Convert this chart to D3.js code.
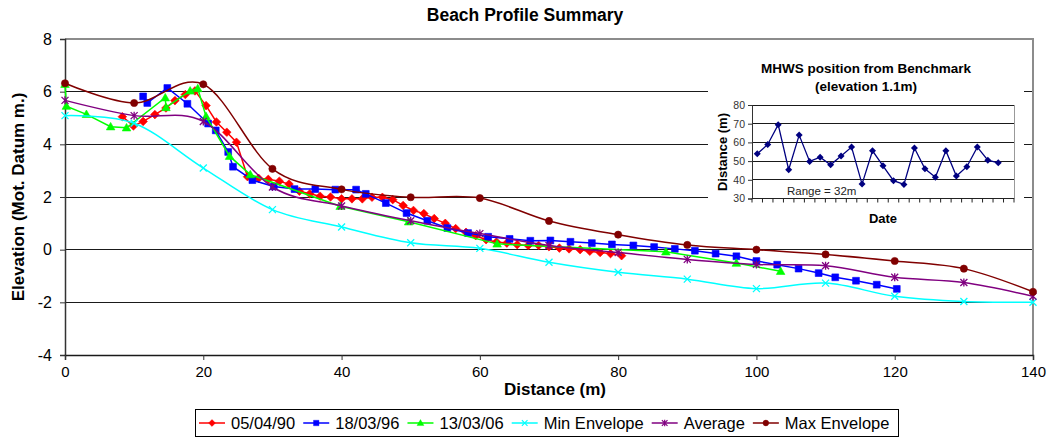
<!DOCTYPE html>
<html><head><meta charset="utf-8">
<script src="https://cdn.jsdelivr.net/npm/d3@7"></script>
<style>
body{margin:0;background:#fff;}
svg text{font-family:"Liberation Sans",Arial,sans-serif;}
</style></head>
<body><svg id="c" width="1051" height="439"></svg>
<script>
// ---------- DATA ----------
const chartTitle = "Beach Profile Summary";
const xTicks = [0, 20, 40, 60, 80, 100, 120, 140];
const yTicks = [-4, -2, 0, 2, 4, 6, 8];

const envX = [0, 10, 20, 30, 40, 50, 60, 70, 80, 90, 100, 110, 120, 130, 140];
const maxEnv = [6.32, 5.57, 6.28, 3.07, 2.29, 1.99, 1.96, 1.09, 0.57, 0.18, 0.00, -0.18, -0.43, -0.72, -1.60];
const avgEnv = [5.67, 5.09, 4.87, 2.38, 1.66, 1.10, 0.61, 0.16, -0.11, -0.37, -0.56, -0.61, -1.05, -1.25, -1.77];
const minEnv = [5.09, 4.80, 3.10, 1.52, 0.86, 0.26, 0.05, -0.48, -0.86, -1.12, -1.48, -1.27, -1.77, -1.97, -2.00];

const p1990X = [8.3, 9.9, 11.3, 13.0, 14.6, 15.9, 17.4, 18.8, 20.4, 21.9, 23.4, 24.8, 26.4, 28.0, 29.4, 31.0, 32.4, 33.9, 35.4, 36.9, 38.4, 40.0, 41.5, 43.0, 44.4, 45.9, 47.4, 48.9, 50.4, 51.9, 53.4, 55.0, 56.5, 58.0, 59.4, 60.9, 62.4, 63.9, 65.4, 67.0, 68.5, 70.0, 71.5, 72.9, 74.5, 75.9, 77.4, 78.9, 80.5];
const p1990Y = [5.05, 4.70, 4.87, 5.13, 5.38, 5.66, 5.89, 6.03, 5.47, 4.85, 4.46, 4.08, 2.77, 2.71, 2.67, 2.60, 2.49, 2.22, 2.12, 2.03, 2.00, 1.93, 1.93, 1.93, 1.99, 1.99, 1.90, 1.68, 1.49, 1.37, 1.18, 1.00, 0.80, 0.66, 0.53, 0.38, 0.29, 0.25, 0.19, 0.16, 0.16, 0.11, 0.06, 0.03, 0.00, -0.06, -0.11, -0.15, -0.23];

const p1996X = [11.3, 11.9, 14.8, 17.7, 20.7, 21.8, 23.6, 24.3, 27.1, 30.2, 33.2, 36.2, 39.1, 42.1, 43.5, 46.4, 49.4, 52.4, 55.3, 58.3, 61.2, 64.3, 67.3, 70.2, 73.1, 76.2, 79.1, 82.2, 85.2, 88.2, 91.1, 94.1, 97.1, 100.0, 103.0, 106.1, 109.0, 111.4, 114.4, 117.4, 120.3];
const p1996Y = [5.82, 5.57, 6.14, 5.54, 4.79, 4.53, 3.71, 3.15, 2.64, 2.40, 2.30, 2.30, 2.28, 2.28, 2.12, 1.77, 1.39, 1.10, 0.82, 0.63, 0.49, 0.41, 0.34, 0.35, 0.30, 0.25, 0.20, 0.16, 0.10, 0.03, -0.04, -0.15, -0.25, -0.43, -0.57, -0.72, -0.89, -1.05, -1.18, -1.33, -1.49];

const p2006X = [0, 0.2, 3.1, 6.6, 8.9, 14.5, 14.6, 18.1, 19.2, 20.4, 23.8, 26.8, 39.8, 49.7, 62.5, 86.9, 97.1, 103.5];
const p2006Y = [6.28, 5.45, 5.14, 4.67, 4.63, 5.77, 5.40, 6.03, 6.12, 5.06, 3.55, 2.85, 1.65, 1.06, 0.22, -0.08, -0.51, -0.82];

const seriesNames = ["05/04/90", "18/03/96", "13/03/06", "Min Envelope", "Average", "Max Envelope"];
const seriesColors = ["#FF0000", "#0000FF", "#00FF00", "#00FFFF", "#800080", "#800000"];

// inset
const insetTitle1 = "MHWS position from Benchmark";
const insetTitle2 = "(elevation 1.1m)";
const insetValues = [53.9, 58.9, 69.5, 45.4, 63.9, 49.8, 52.1, 48.0, 52.7, 57.5, 37.7, 55.5, 47.5, 39.5, 37.5, 57.0, 45.9, 41.4, 55.5, 42.0, 47.0, 57.5, 50.5, 49.1];
const insetCategoryCount = 25;
const insetYTicks = [30, 40, 50, 60, 70, 80];
const insetNote = "Range = 32m";

// ---------- DRAW ----------
const svg = d3.select("#c");
const FONT = '"Liberation Sans",Arial,sans-serif';

const x = d3.scaleLinear().domain([0, 140]).range([65, 1033]);
const y = d3.scaleLinear().domain([-4, 8]).range([355, 39]);

// gridlines
svg.append("g").selectAll("line").data(yTicks.filter(d => d !== 8)).join("line")
  .attr("x1", x(0)).attr("x2", x(140)).attr("y1", d => y(d)).attr("y2", d => y(d))
  .attr("stroke", "#1a1a1a").attr("stroke-width", 1).attr("shape-rendering", "crispEdges");
// plot border top/right
svg.append("path").attr("d", `M${x(0)},${y(8)}H${x(140)}V${y(-4)}`)
  .attr("fill", "none").attr("stroke", "#8c8c8c").attr("stroke-width", 1.5).attr("shape-rendering", "crispEdges");

// axes
const yAxis = d3.axisLeft(y).tickValues(yTicks).tickSize(5).tickPadding(8).tickFormat(d3.format("d"));
const gy = svg.append("g").attr("transform", `translate(${x(0)},0)`).call(yAxis);
gy.select(".domain").attr("stroke", "#333").attr("stroke-width", 1.5);
gy.selectAll(".tick line").attr("stroke", "#333");
gy.selectAll(".tick text").attr("font-family", FONT).attr("font-size", 16).attr("fill", "#000");
gy.selectAll(".tick text").text(d => d < 0 ? "-" + Math.abs(d) : d);

const xAxis = d3.axisBottom(x).tickValues(xTicks).tickSize(5).tickPadding(6).tickFormat(d3.format("d"));
const gx = svg.append("g").attr("transform", `translate(0,${y(-4)})`).call(xAxis);
gx.select(".domain").attr("stroke", "#1a1a1a").attr("stroke-width", 1.5);
gx.selectAll(".tick line").attr("stroke", "#333");
gx.selectAll(".tick text").attr("font-family", FONT).attr("font-size", 15).attr("fill", "#000");

// titles
svg.append("text").attr("x", 525).attr("y", 21).attr("text-anchor", "middle")
  .attr("font-size", 17.5).attr("font-weight", "bold").text(chartTitle);
svg.append("text").attr("x", 555).attr("y", 395).attr("text-anchor", "middle")
  .attr("font-size", 17).attr("font-weight", "bold").text("Distance (m)");
svg.append("text").attr("transform", "translate(24,197) rotate(-90)").attr("text-anchor", "middle")
  .attr("font-size", 17).attr("font-weight", "bold").text("Elevation (Mot. Datum m.)");

// markers
function markerPath(kind) {
  switch (kind) {
    case 0: return "M0,-4.3L4.3,0L0,4.3L-4.3,0Z";
    case 1: return "M-3.4,-3.4H3.4V3.4H-3.4Z";
    case 2: return "M0,-4.3L4.3,3.2H-4.3Z";
    case 3: return "M-3.5,-3.5L3.5,3.5M-3.5,3.5L3.5,-3.5";
    case 4: return "M-3.5,-3.5L3.5,3.5M-3.5,3.5L3.5,-3.5M0,-4L0,4";
    case 5: return "M3.6,0A3.6,3.6 0 1 1 -3.6,0A3.6,3.6 0 1 1 3.6,0Z";
  }
}
function drawMarkers(g, pts, kind, color) {
  const stroked = (kind === 3 || kind === 4);
  g.selectAll("path.m").data(pts).join("path").attr("class", "m")
    .attr("d", markerPath(kind))
    .attr("transform", d => `translate(${x(d[0])},${y(d[1])})`)
    .attr("fill", stroked ? "none" : color)
    .attr("stroke", color).attr("stroke-width", stroked ? 1.3 : 0.6);
}

const seriesData = [
  {pts: p1990X.map((v, i) => [v, p1990Y[i]]), smooth: false},
  {pts: p1996X.map((v, i) => [v, p1996Y[i]]), smooth: false},
  {pts: p2006X.map((v, i) => [v, p2006Y[i]]), smooth: false},
  {pts: envX.map((v, i) => [v, minEnv[i]]), smooth: true},
  {pts: envX.map((v, i) => [v, avgEnv[i]]), smooth: true},
  {pts: envX.map((v, i) => [v, maxEnv[i]]), smooth: true}
];

seriesData.forEach((s, k) => {
  const g = svg.append("g");
  const line = d3.line().x(d => x(d[0])).y(d => y(d[1]))
    .curve(s.smooth ? d3.curveCatmullRom.alpha(0) : d3.curveLinear);
  g.append("path").attr("d", line(s.pts)).attr("fill", "none")
    .attr("stroke", seriesColors[k]).attr("stroke-width", 1.5);
  drawMarkers(g, s.pts, k, seriesColors[k]);
});

// ---------- INSET ----------
svg.append("rect").attr("x", 708).attr("y", 42).attr("width", 316).attr("height", 190).attr("fill", "#fff");

const xi = d3.scaleBand().domain(d3.range(insetCategoryCount)).range([752, 1014]);
const yi = d3.scaleLinear().domain([30, 80]).range([198.5, 105]);

svg.append("g").selectAll("line").data(insetYTicks.filter(d => d > 30)).join("line")
  .attr("x1", 752).attr("x2", 1014).attr("y1", d => yi(d)).attr("y2", d => yi(d))
  .attr("stroke", "#1a1a1a").attr("stroke-width", 1).attr("shape-rendering", "crispEdges");
svg.append("line").attr("x1", 1014).attr("x2", 1014).attr("y1", yi(80)).attr("y2", yi(30))
  .attr("stroke", "#999").attr("stroke-width", 1).attr("shape-rendering", "crispEdges");

const giy = svg.append("g").attr("transform", "translate(752,0)")
  .call(d3.axisLeft(yi).tickValues(insetYTicks).tickSize(4).tickPadding(3));
giy.select(".domain").attr("stroke", "#333");
giy.selectAll(".tick line").attr("stroke", "#333");
giy.selectAll(".tick text").attr("font-family", FONT).attr("font-size", 10.5).attr("fill", "#333");

const boundaries = d3.range(insetCategoryCount + 1).map(i => 752 + i * xi.step());
const gix = svg.append("g");
gix.append("line").attr("x1", 752).attr("x2", 1014).attr("y1", yi(30)).attr("y2", yi(30))
  .attr("stroke", "#222").attr("stroke-width", 1.2);
gix.selectAll("line.t").data(boundaries).join("line").attr("class", "t")
  .attr("x1", d => d).attr("x2", d => d).attr("y1", yi(30)).attr("y2", yi(30) + 4)
  .attr("stroke", "#222").attr("stroke-width", 1);

const iline = d3.line().x((d, i) => xi(i) + xi.bandwidth() / 2).y(d => yi(d));
svg.append("path").attr("d", iline(insetValues)).attr("fill", "none")
  .attr("stroke", "#000080").attr("stroke-width", 1.3);
svg.append("g").selectAll("path").data(insetValues).join("path")
  .attr("d", "M0,-3.5L3.5,0L0,3.5L-3.5,0Z")
  .attr("transform", (d, i) => `translate(${xi(i) + xi.bandwidth() / 2},${yi(d)})`)
  .attr("fill", "#000080");

svg.append("text").attr("x", 866).attr("y", 73).attr("text-anchor", "middle")
  .attr("font-size", 13.5).attr("font-weight", "bold").text(insetTitle1);
svg.append("text").attr("x", 866).attr("y", 91).attr("text-anchor", "middle")
  .attr("font-size", 13.5).attr("font-weight", "bold").text(insetTitle2);
svg.append("text").attr("transform", "translate(727,152) rotate(-90)").attr("text-anchor", "middle")
  .attr("font-size", 13).attr("font-weight", "bold").text("Distance (m)");
svg.append("text").attr("x", 883).attr("y", 223).attr("text-anchor", "middle")
  .attr("font-size", 13).attr("font-weight", "bold").text("Date");
svg.append("text").attr("x", 787).attr("y", 195)
  .attr("font-size", 11.5).attr("fill", "#222").text(insetNote);

// ---------- LEGEND ----------
const lg = svg.append("g");
lg.append("rect").attr("x", 195.5).attr("y", 409.5).attr("width", 703).attr("height", 27)
  .attr("fill", "#fff").attr("stroke", "#000").attr("stroke-width", 1);
let cx = 199;
seriesNames.forEach((name, k) => {
  lg.append("line").attr("x1", cx).attr("x2", cx + 26).attr("y1", 423).attr("y2", 423)
    .attr("stroke", seriesColors[k]).attr("stroke-width", 1.5);
  const stroked = (k === 3 || k === 4);
  lg.append("path").attr("d", markerPath(k)).attr("transform", `translate(${cx + 13},423) scale(0.8)`)
    .attr("fill", stroked ? "none" : seriesColors[k]).attr("stroke", seriesColors[k]).attr("stroke-width", stroked ? 1.5 : 0.5);
  const t = lg.append("text").attr("x", cx + 32).attr("y", 429).attr("font-size", 16.5).text(name);
  cx += 32 + t.node().getComputedTextLength() + 8;
});
</script></body></html>
